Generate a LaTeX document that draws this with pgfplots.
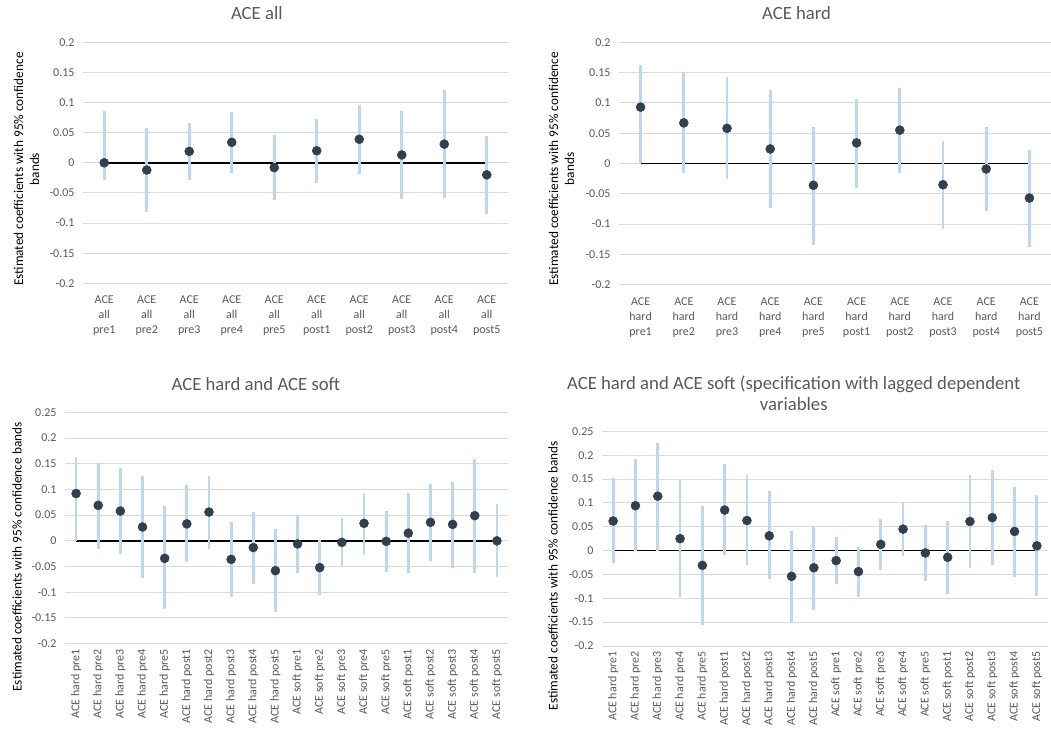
\documentclass[border=0pt]{standalone}
\usepackage{pgfplots}
\usepackage{pgfplotstable}
\pgfplotsset{compat=1.18}
\usepackage{fontspec}
\setmainfont{Carlito}
\definecolor{barblue}{HTML}{BDD7EE}
\definecolor{dotcol}{HTML}{333F50}
\definecolor{gridgray}{HTML}{D9D9D9}
\definecolor{txtgray}{HTML}{595959}

\pgfplotstableread{
x y lo hi
1 0.000 -0.028 0.086
2 -0.012 -0.081 0.058
3 0.019 -0.028 0.066
4 0.034 -0.017 0.085
5 -0.008 -0.062 0.046
6 0.020 -0.034 0.073
7 0.039 -0.019 0.096
8 0.013 -0.060 0.086
9 0.031 -0.059 0.121
10 -0.020 -0.085 0.045
}\dataA

\pgfplotstableread{
x y lo hi
1 0.093 0.000 0.162
2 0.067 -0.016 0.150
3 0.058 -0.025 0.142
4 0.024 -0.073 0.121
5 -0.036 -0.135 0.061
6 0.034 -0.040 0.106
7 0.055 -0.016 0.125
8 -0.035 -0.108 0.037
9 -0.009 -0.079 0.060
10 -0.057 -0.137 0.022
}\dataB

\pgfplotstableread{
x y lo hi
1 0.092 0.000 0.163
2 0.069 -0.016 0.152
3 0.058 -0.025 0.142
4 0.027 -0.073 0.126
5 -0.034 -0.133 0.067
6 0.033 -0.042 0.108
7 0.056 -0.016 0.127
8 -0.036 -0.110 0.037
9 -0.013 -0.083 0.057
10 -0.058 -0.139 0.023
11 -0.006 -0.062 0.050
12 -0.052 -0.106 0.001
13 -0.003 -0.051 0.045
14 0.034 -0.027 0.094
15 -0.001 -0.060 0.059
16 0.015 -0.063 0.093
17 0.036 -0.040 0.110
18 0.032 -0.052 0.115
19 0.049 -0.062 0.159
20 0.000 -0.071 0.071
}\dataC

\pgfplotstableread{
x y lo hi
1 0.062 -0.027 0.152
2 0.094 0.000 0.192
3 0.114 0.000 0.226
4 0.025 -0.097 0.148
5 -0.031 -0.157 0.094
6 0.085 -0.010 0.182
7 0.063 -0.031 0.158
8 0.031 -0.060 0.124
9 -0.054 -0.149 0.042
10 -0.036 -0.124 0.052
11 -0.021 -0.071 0.029
12 -0.044 -0.097 0.008
13 0.013 -0.041 0.067
14 0.045 -0.011 0.101
15 -0.005 -0.064 0.054
16 -0.014 -0.090 0.062
17 0.061 -0.036 0.158
18 0.069 -0.030 0.169
19 0.040 -0.055 0.134
20 0.010 -0.096 0.116
}\dataD

\pgfplotsset{
  coef/.style={
    scale only axis, anchor=south west,
    enlargelimits=false,
    axis line style={draw=none},
    major tick length=0pt,
    ymajorgrids, grid style={gridgray, line width=1pt},
    /pgf/number format/assume math mode=true,
    yticklabel={\pgfmathprintnumber[fixed,precision=2]{\tick}},
    yticklabel style={font=\fontsize{12}{14}\selectfont, text=txtgray, xshift=-5pt},
    xticklabel style={font=\fontsize{12}{15}\selectfont, text=txtgray},
    title style={font=\fontsize{18.7}{21}\selectfont, text=txtgray, anchor=center, align=center},
    ylabel style={font=\fontsize{13.3}{16}\selectfont, anchor=center, align=center, text=black},
  },
  bars/.style={only marks, mark=none, forget plot,
    error bars/.cd, y dir=both, y explicit, error mark=none,
    error bar style={line width=2.75pt, draw=barblue}},
  dots/.style={only marks, mark=*, mark size=4.5pt,
    mark options={fill=dotcol, draw=dotcol, line width=0.5pt}},
  base/.style={black, line width=1.5pt, mark=none},
}

\begin{document}
\begin{tikzpicture}
\path[use as bounding box] (0,0) rectangle (1051pt,731pt);

% Panel 1: ACE all
\begin{axis}[coef, at={(83pt,447.7pt)}, width=425pt, height=241pt,
  xmin=0.5, xmax=10.5, ymin=-0.2, ymax=0.2,
  ytick={-0.2,-0.15,-0.1,-0.05,0,0.05,0.1,0.15,0.2},
  xtick={1,...,10},
  xticklabels={{ACE\\all\\pre1},{ACE\\all\\pre2},{ACE\\all\\pre3},{ACE\\all\\pre4},{ACE\\all\\pre5},{ACE\\all\\post1},{ACE\\all\\post2},{ACE\\all\\post3},{ACE\\all\\post4},{ACE\\all\\post5}},
  xticklabel style={align=center, yshift=-9pt},
  title={ACE all}, title style={at={(axis description cs:0.409,1.096)}},
  ylabel={Estimated coefficients with 95\% confidence\\bands},
  ylabel style={at={(axis description cs:-0.133,0.474)}},
]
\addplot[base] coordinates {(1,0) (10,0)};
\addplot[bars] table[x=x, y=y, y error plus expr=\thisrow{hi}-\thisrow{y}, y error minus expr=\thisrow{y}-\thisrow{lo}] {\dataA};
\addplot[dots] table[x=x, y=y] {\dataA};
\end{axis}

% Panel 2: ACE hard
\begin{axis}[coef, at={(619pt,446.3pt)}, width=432pt, height=242.4pt,
  xmin=0.5, xmax=10.5, ymin=-0.2, ymax=0.2,
  ytick={-0.2,-0.15,-0.1,-0.05,0,0.05,0.1,0.15,0.2},
  xtick={1,...,10},
  xticklabels={{ACE\\hard\\pre1},{ACE\\hard\\pre2},{ACE\\hard\\pre3},{ACE\\hard\\pre4},{ACE\\hard\\pre5},{ACE\\hard\\post1},{ACE\\hard\\post2},{ACE\\hard\\post3},{ACE\\hard\\post4},{ACE\\hard\\post5}},
  xticklabel style={align=center, yshift=-9pt},
  title={ACE hard}, title style={at={(axis description cs:0.411,1.096)}},
  ylabel={Estimated coefficients with 95\% confidence\\bands},
  ylabel style={at={(axis description cs:-0.133,0.478)}},
]
\addplot[base] coordinates {(1,0) (10,0)};
\addplot[bars] table[x=x, y=y, y error plus expr=\thisrow{hi}-\thisrow{y}, y error minus expr=\thisrow{y}-\thisrow{lo}] {\dataB};
\addplot[dots] table[x=x, y=y] {\dataB};
\end{axis}

% Panel 3: ACE hard and ACE soft
\begin{axis}[coef, at={(65pt,87.3pt)}, width=443pt, height=231.4pt,
  xmin=0.5, xmax=20.5, ymin=-0.2, ymax=0.25,
  ytick={-0.2,-0.15,-0.1,-0.05,0,0.05,0.1,0.15,0.2,0.25},
  xtick={1,...,20},
  xticklabels={ACE hard pre1,ACE hard pre2,ACE hard pre3,ACE hard pre4,ACE hard pre5,ACE hard post1,ACE hard post2,ACE hard post3,ACE hard post4,ACE hard post5,ACE soft pre1,ACE soft pre2,ACE soft pre3,ACE soft pre4,ACE soft pre5,ACE soft post1,ACE soft post2,ACE soft post3,ACE soft post4,ACE soft post5},
  xticklabel style={rotate=90, anchor=east, xshift=-2pt},
  title={ACE hard and ACE soft}, title style={at={(axis description cs:0.431,1.097)}},
  ylabel={Estimated coefficients with 95\% confidence bands},
  ylabel style={at={(axis description cs:-0.108,0.375)}},
]
\addplot[base] coordinates {(1,0) (20,0)};
\addplot[bars] table[x=x, y=y, y error plus expr=\thisrow{hi}-\thisrow{y}, y error minus expr=\thisrow{y}-\thisrow{lo}] {\dataC};
\addplot[dots] table[x=x, y=y] {\dataC};
\end{axis}

% Panel 4: lagged dependent variables
\begin{axis}[coef, at={(602pt,85pt)}, width=446pt, height=214.7pt,
  xmin=0.5, xmax=20.5, ymin=-0.2, ymax=0.25,
  ytick={-0.2,-0.15,-0.1,-0.05,0,0.05,0.1,0.15,0.2,0.25},
  xtick={1,...,20},
  xticklabels={ACE hard pre1,ACE hard pre2,ACE hard pre3,ACE hard pre4,ACE hard pre5,ACE hard post1,ACE hard post2,ACE hard post3,ACE hard post4,ACE hard post5,ACE soft pre1,ACE soft pre2,ACE soft pre3,ACE soft pre4,ACE soft pre5,ACE soft post1,ACE soft post2,ACE soft post3,ACE soft post4,ACE soft post5},
  xticklabel style={rotate=90, anchor=east, xshift=-2pt},
  title={ACE hard and ACE soft (specification with lagged dependent\\variables},
  title style={at={(axis description cs:0.430,1.151)}},
  ylabel={Estimated coefficients with 95\% confidence bands},
  ylabel style={at={(axis description cs:-0.110,0.328)}},
]
\addplot[base] coordinates {(1,0) (20,0)};
\addplot[bars] table[x=x, y=y, y error plus expr=\thisrow{hi}-\thisrow{y}, y error minus expr=\thisrow{y}-\thisrow{lo}] {\dataD};
\addplot[dots] table[x=x, y=y] {\dataD};
\end{axis}
\end{tikzpicture}
\end{document}
